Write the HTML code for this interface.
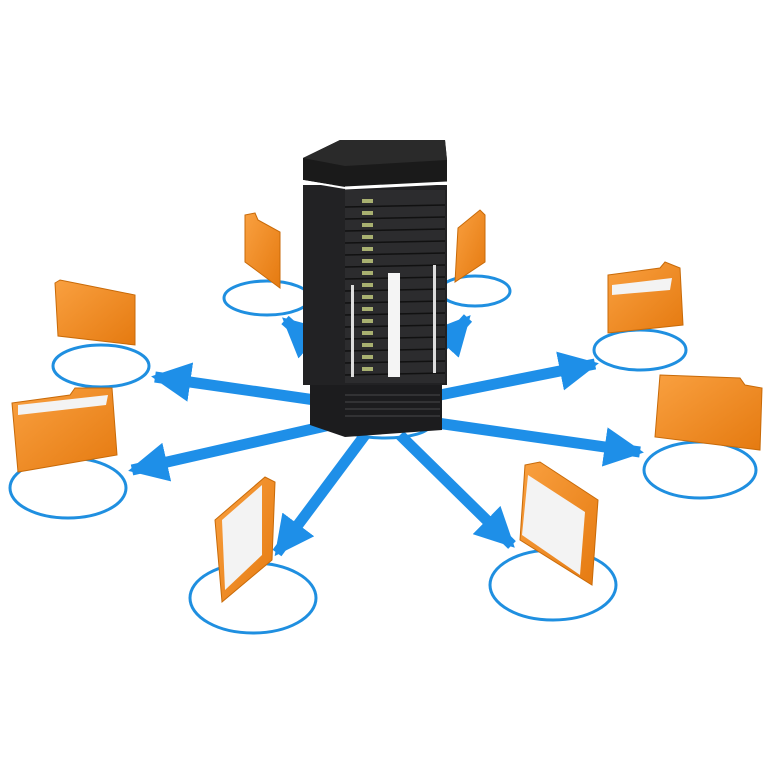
<!DOCTYPE html><html><head><style>body{margin:0;background:#fff}svg{display:block}</style></head><body>
<svg width="768" height="768" viewBox="0 0 768 768" xmlns="http://www.w3.org/2000/svg">
<defs>
<linearGradient id="fo" x1="0" y1="0" x2="1" y2="1"><stop offset="0" stop-color="#f9a040"/><stop offset="1" stop-color="#e57a10"/></linearGradient>
<marker id="ah" viewBox="0 0 10 10" refX="9" refY="5" markerWidth="3.6" markerHeight="3.6" orient="auto"><path d="M0,0L10,5L0,10z" fill="#1e8fe8"/></marker>
</defs>
<g fill="#fff" stroke="#1f8fe0" stroke-width="3">
<ellipse cx="267" cy="298" rx="43" ry="17"/>
<ellipse cx="475" cy="291" rx="35" ry="15"/>
<ellipse cx="101" cy="366" rx="48" ry="21"/>
<ellipse cx="640" cy="350" rx="46" ry="20"/>
<ellipse cx="68" cy="488" rx="58" ry="30"/>
<ellipse cx="700" cy="470" rx="56" ry="28"/>
<ellipse cx="253" cy="598" rx="63" ry="35"/>
<ellipse cx="553" cy="585" rx="63" ry="35"/>
<ellipse cx="385" cy="425" rx="45" ry="13"/>
</g>
<g stroke="#1e8fe8" stroke-width="11" marker-end="url(#ah)" fill="none">
<line x1="330" y1="360" x2="285" y2="320"/>
<line x1="430" y1="360" x2="468" y2="318"/>
<line x1="315" y1="400" x2="155" y2="377"/>
<line x1="440" y1="395" x2="595" y2="364"/>
<line x1="330" y1="425" x2="132" y2="470"/>
<line x1="430" y1="422" x2="640" y2="452"/>
<line x1="365" y1="435" x2="277" y2="553"/>
<line x1="400" y1="435" x2="512" y2="545"/>
</g>
<!-- server -->
<polygon points="310,385 442,385 442,430 345,437 310,425" fill="#1c1c1e"/>
<g stroke="#3a3a3c" stroke-width="1.5"><line x1="345" y1="395" x2="440" y2="395"/><line x1="345" y1="402" x2="440" y2="402"/><line x1="345" y1="409" x2="440" y2="409"/><line x1="345" y1="416" x2="440" y2="416"/></g>
<rect x="303" y="185" width="144" height="200" fill="#222224"/>
<rect x="345" y="190" width="100" height="193" fill="#2c2c2e"/>
<polygon points="303,158 340,140 445,140 447,160 447,182 345,187 303,180" fill="#1a1a1a"/>
<polygon points="303,158 340,140 445,140 447,160 345,166" fill="#2a2a2a"/>
<line x1="345" y1="188" x2="447" y2="183" stroke="#fff" stroke-width="3"/>
<line x1="303" y1="181" x2="345" y2="188" stroke="#fff" stroke-width="2"/>
<g>
<g stroke="#111" stroke-width="1.5">
<line x1="345" y1="207" x2="445" y2="205"/><line x1="345" y1="219" x2="445" y2="217"/><line x1="345" y1="231" x2="445" y2="229"/><line x1="345" y1="243" x2="445" y2="241"/><line x1="345" y1="255" x2="445" y2="253"/><line x1="345" y1="267" x2="445" y2="265"/><line x1="345" y1="279" x2="445" y2="277"/><line x1="345" y1="291" x2="445" y2="289"/><line x1="345" y1="303" x2="445" y2="301"/><line x1="345" y1="315" x2="445" y2="313"/><line x1="345" y1="327" x2="445" y2="325"/><line x1="345" y1="339" x2="445" y2="337"/><line x1="345" y1="351" x2="445" y2="349"/><line x1="345" y1="363" x2="445" y2="361"/><line x1="345" y1="375" x2="445" y2="373"/>
</g>
<g fill="#a8b070">
<rect x="362" y="199" width="11" height="4"/><rect x="362" y="211" width="11" height="4"/><rect x="362" y="223" width="11" height="4"/><rect x="362" y="235" width="11" height="4"/><rect x="362" y="247" width="11" height="4"/><rect x="362" y="259" width="11" height="4"/><rect x="362" y="271" width="11" height="4"/><rect x="362" y="283" width="11" height="4"/><rect x="362" y="295" width="11" height="4"/><rect x="362" y="307" width="11" height="4"/><rect x="362" y="319" width="11" height="4"/><rect x="362" y="331" width="11" height="4"/><rect x="362" y="343" width="11" height="4"/><rect x="362" y="355" width="11" height="4"/><rect x="362" y="367" width="11" height="4"/>
</g>
<rect x="388" y="273" width="12" height="104" fill="#f4f4f4"/>
<rect x="433" y="265" width="3" height="108" fill="#ddd"/>
<rect x="351" y="285" width="3" height="92" fill="#ddd"/>
</g>
<!-- folders -->
<g fill="url(#fo)" stroke="#c86a08" stroke-width="1">
<polygon points="245,215 255,213 258,220 280,232 280,288 245,262"/>
<polygon points="458,228 480,210 485,215 485,262 455,282"/>
<polygon points="55,283 60,280 90,286 135,295 135,345 58,336"/>
<polygon points="608,275 660,268 665,262 680,268 683,325 608,333"/>
<polygon points="12,403 70,395 75,388 112,388 117,455 18,472"/>
<polygon points="660,375 740,378 745,385 762,388 760,450 655,437"/>
<polygon points="215,520 265,477 275,482 272,560 222,602"/>
<polygon points="525,465 540,462 598,500 592,585 520,540"/>
</g>
<g fill="#f3f3f3">
<polygon points="222,520 262,485 262,555 225,590"/>
<polygon points="528,475 585,512 580,575 522,535"/>
<polygon points="612,285 672,278 670,290 612,295"/>
<polygon points="18,405 108,395 106,405 18,415"/>
</g>
</svg>
</body></html>
